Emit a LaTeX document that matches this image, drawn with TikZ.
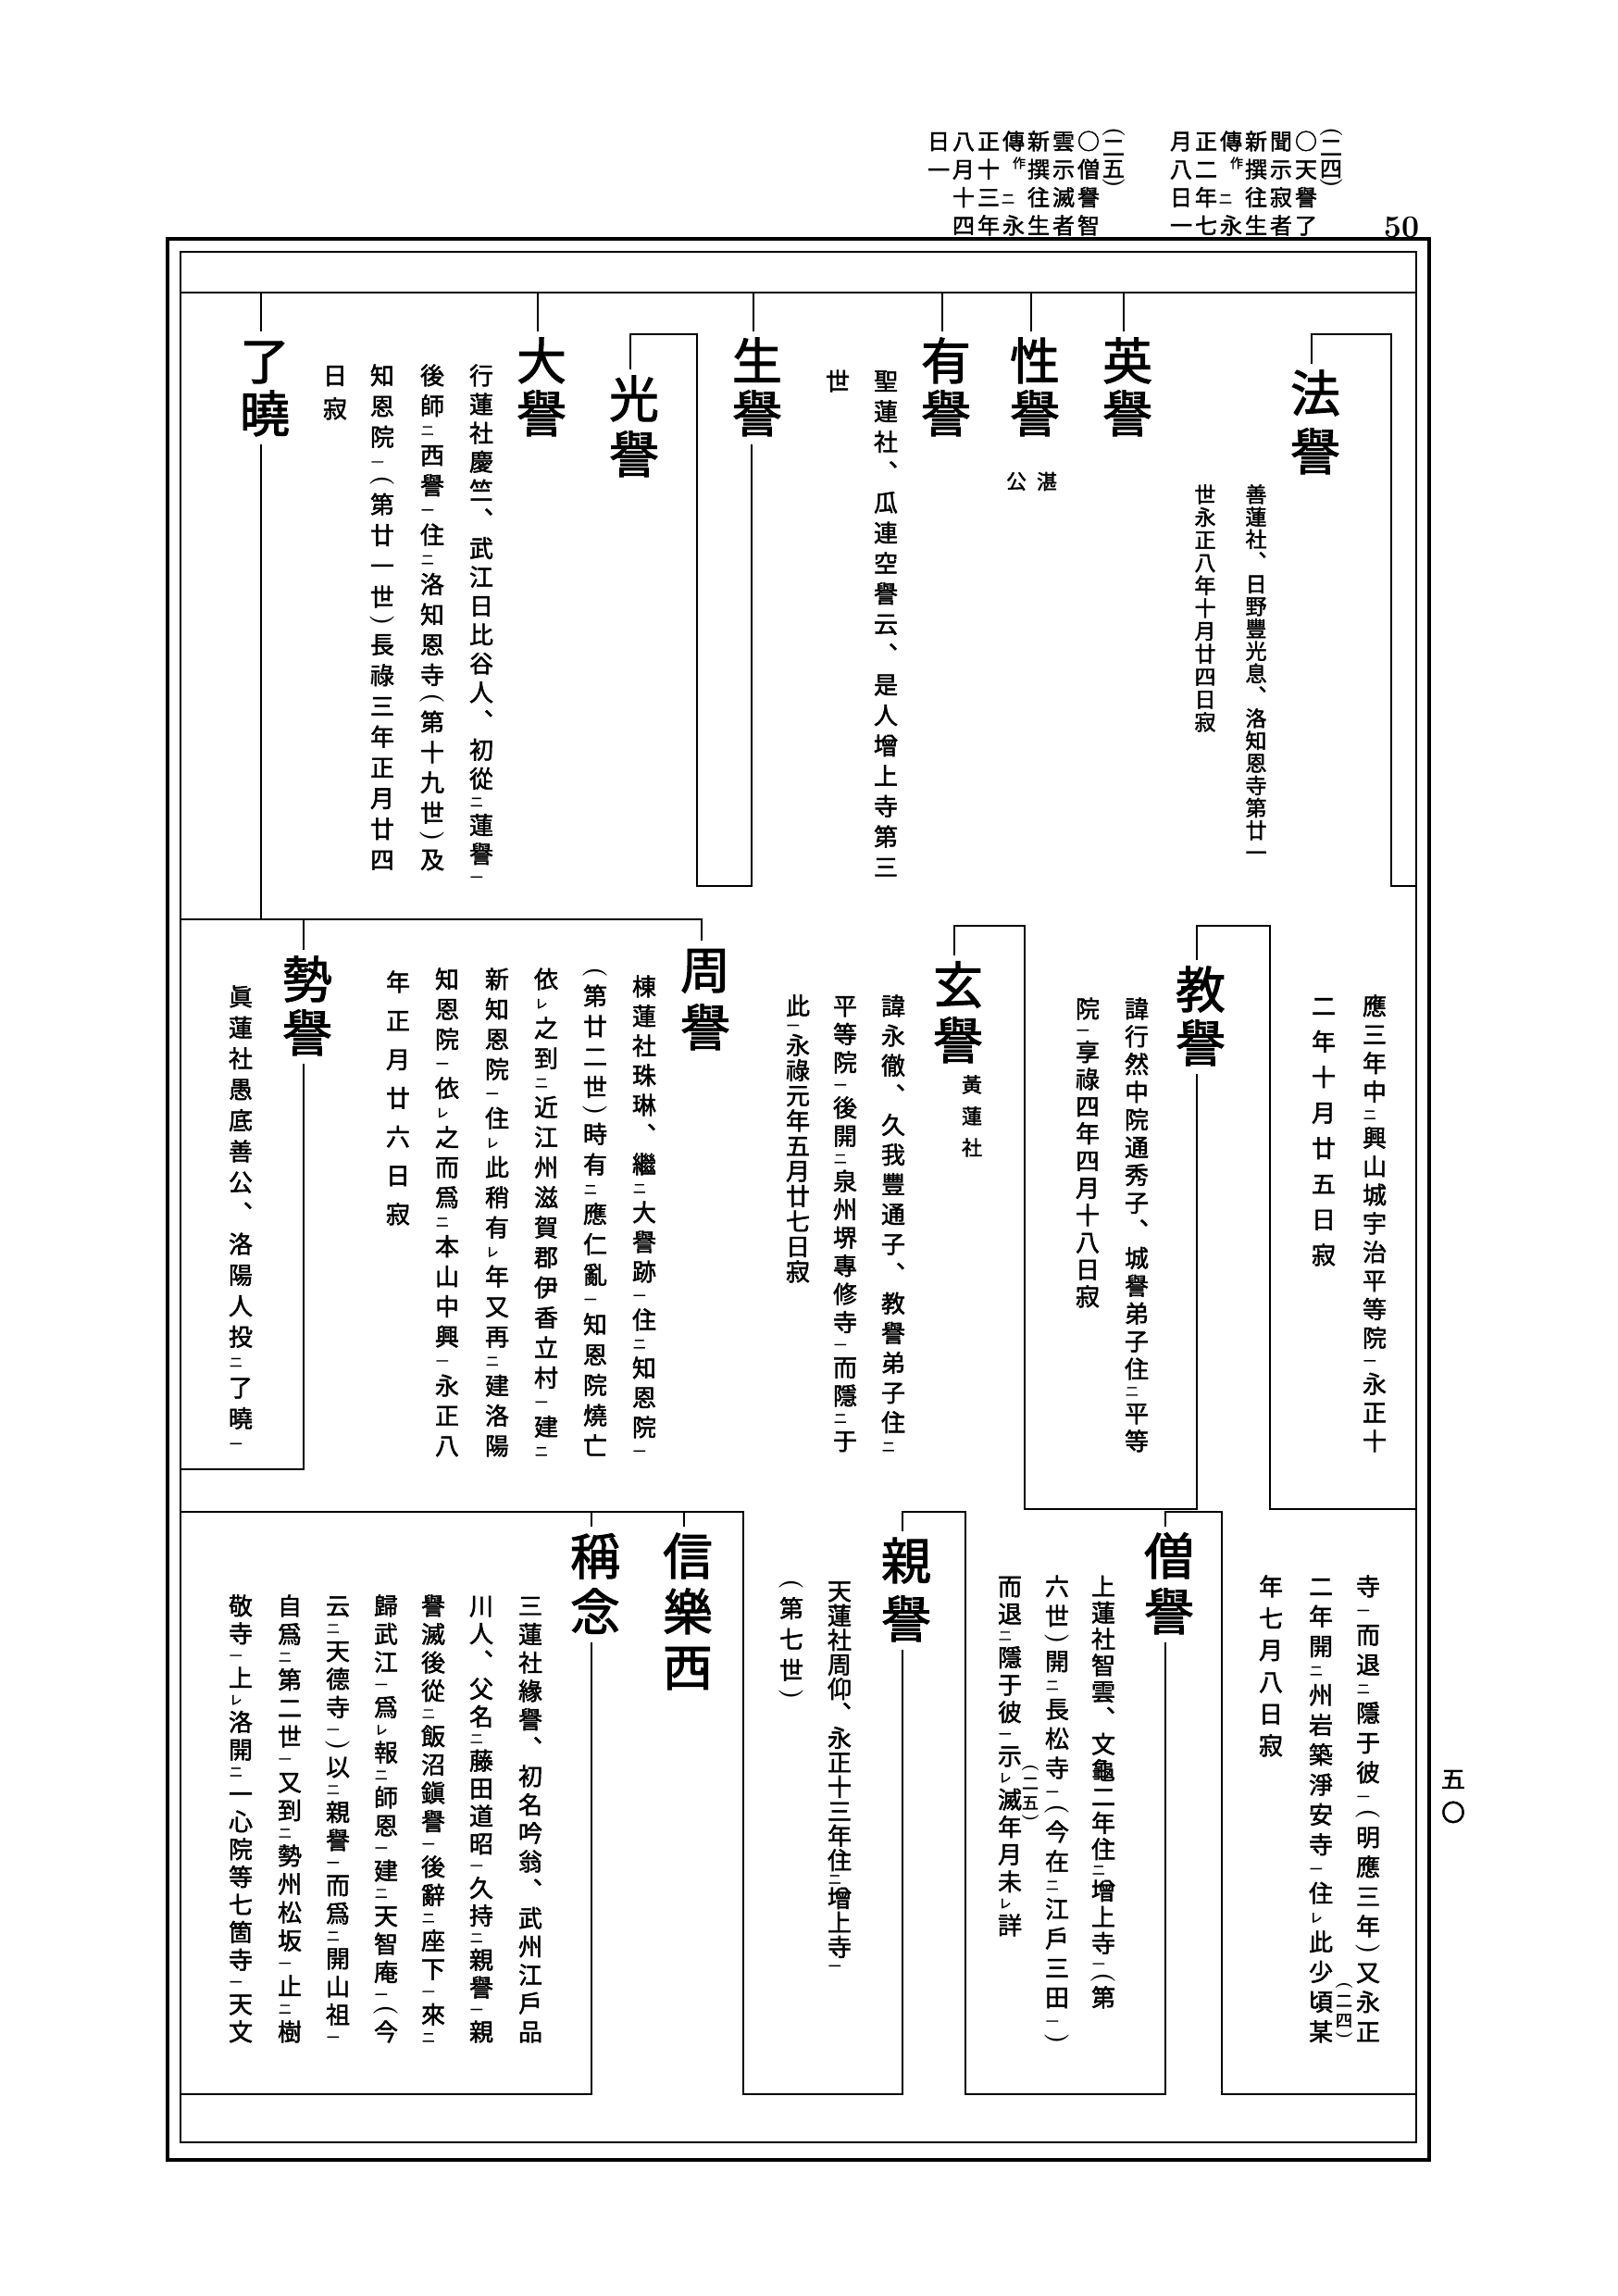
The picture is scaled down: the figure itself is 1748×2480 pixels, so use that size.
\documentclass[tikz,border=0pt]{standalone}
\usepackage{fontspec}
\newfontfamily\cjk{Noto Sans CJK JP}[FakeBold=1.8]
\makeatletter
\newdimen\vcpx \vcpx=0.5pt
\def\vc@end{\vc@end}
\def\vc@glue{\vskip 0pt plus 1fil minus 1fil\relax}
\def\vc@put#1{\vc@sep#1\let\vc@sep\vc@glue}
\newcommand\vtext[2]{\vbox to #1\vcpx{\offinterlineskip\let\vc@sep\relax\vc@loop#2\vc@end\kern0pt}}
\def\vc@loop#1{%
  \ifx#1\vc@end\let\vc@next\relax
  \else\ifx#1_\let\vc@next\vc@kaeri
  \else\ifx#1(\vc@put{\vc@paren(}\let\vc@next\vc@loop
  \else\ifx#1)\vc@put{\vc@paren)}\let\vc@next\vc@loop
  \else\ifx#1、\vc@put{\vc@comma}\let\vc@next\vc@loop
  \else\vc@put{\vc@char#1}\let\vc@next\vc@loop
  \fi\fi\fi\fi\fi\vc@next}
\def\vc@kaeri#1{\vc@put{\vc@small{#1}}\vc@loop}
\def\vc@char#1{\hbox to 1em{\hss\vrule height.88em depth.12em width0pt\smash{#1}\hss}}
\def\vc@small#1{\hbox to 1em{\kern.04em\vrule height.47em depth.07em width0pt\smash{\scalebox{.52}{#1}}\hss}}
\def\vc@comma{\vc@char{︑}}
\def\vc@paren#1{\hbox to 1em{\hss\rotatebox{-90}{\rmfamily\bfseries #1}\hss}}
\makeatother
\tikzset{
  vbody/.style={anchor=north,inner sep=0pt,font=\cjk\fontsize{13}{13}\selectfont},
  vbodys/.style={anchor=north,inner sep=0pt,font=\cjk\fontsize{11.5}{11.5}\selectfont},
  vname/.style={anchor=north,inner sep=0pt,font=\cjk\fontsize{27}{27}\selectfont},
  vhead/.style={anchor=north,inner sep=0pt,font=\cjk\fontsize{12}{12}\selectfont},
  vhsmall/.style={anchor=center,inner sep=0pt,font=\cjk\fontsize{7}{7}\selectfont},
  vnote/.style={anchor=north,inner sep=0pt,font=\cjk\fontsize{9}{9}\selectfont},
  vside/.style={anchor=center,inner sep=0pt,font=\cjk\fontsize{11}{11}\selectfont},
  chart/.style={line width=1.4pt,line join=miter},
}
\newcommand\tickto[2]{\draw[chart] ([xshift=-2pt,yshift=2pt]#1.north) -- ([xshift=-2pt]#1.north |- #2);}
\begin{document}
\begin{tikzpicture}[x=0.5pt,y=-0.5pt]
\useasboundingbox (0,0) rectangle (1748,2480);
\fill[white] (0,0) rectangle (1748,2480);

% ---------- header ----------
\node[vhead] (hln) at (1203,137) {\vtext{66}{(二五)}};
\node[vhead] (hl1) at (1176,140) {\vtext{115}{○僧譽智}};
\node[vhead] (hl2) at (1149,140) {\vtext{115}{雲示滅者}};
\node[vhead] (hl3) at (1122,140) {\vtext{115}{新撰往生}};
\node[vhead] (hl4a) at (1095,140) {\vtext{24}{傳}};
\node[vhsmall] (hl4b) at (1101,176) {作};
\node[vhsmall] (hl4c) at (1089,215) {二};
\node[vhead] (hl4d) at (1095,231) {\vtext{24}{永}};
\node[vhead] (hl5) at (1068,140) {\vtext{115}{正十三年}};
\node[vhead] (hl6) at (1041,140) {\vtext{115}{八月十四}};
\node[vhead] (hl7) at (1014,140) {\vtext{55}{日一}};
\node[vhead] (hrn) at (1438,137) {\vtext{66}{(二四)}};
\node[vhead] (hr1) at (1411,140) {\vtext{115}{○天譽了}};
\node[vhead] (hr2) at (1384,140) {\vtext{115}{聞示寂者}};
\node[vhead] (hr3) at (1357,140) {\vtext{115}{新撰往生}};
\node[vhead] (hr4a) at (1330,140) {\vtext{24}{傳}};
\node[vhsmall] (hr4b) at (1336,176) {作};
\node[vhsmall] (hr4c) at (1324,215) {二};
\node[vhead] (hr4d) at (1330,231) {\vtext{24}{永}};
\node[vhead] (hr5) at (1303,140) {\vtext{115}{正二年七}};
\node[vhead] (hr6) at (1276,140) {\vtext{115}{月八日一}};
\node[inner sep=0pt,font=\fontsize{17}{17}\selectfont\bfseries] (pg) at (1514,246) {50};
\node[vbody] (pgk) at (1570,1908) {\vtext{62}{五〇}};

% ---------- frame ----------
\draw[line width=1.8pt] (181,258) rectangle (1544,2333);
\draw[line width=1.1pt] (195,272) rectangle (1530,2314);

% ---------- row 1 ----------
\coordinate (L1) at (195,316);
\draw[chart] (L1) -- (1530,316);
\node[vname] (nhoyo) at (1421,397) {\vtext{117}{法譽}};
\node[vname] (neiyo) at (1218,362) {\vtext{111}{英譽}};
\node[vname] (nshoyo) at (1118,362) {\vtext{111}{性譽}};
\node[vname] (nuyo) at (1022,362) {\vtext{111}{有譽}};
\node[vname] (nseiyo) at (818,362) {\vtext{111}{生譽}};
\node[vname] (nkoyo) at (685,403) {\vtext{114}{光譽}};
\node[vname] (ndaiyo) at (585,362) {\vtext{111}{大譽}};
\node[vname] (nryo) at (286,362) {\vtext{111}{了曉}};
\node[vside] (tan) at (1131,520) {湛};
\node[vside] (kou) at (1098,520) {公};

\node[vbodys] (th1) at (1357,522) {\vtext{410}{善蓮社、日野豐光息、洛知恩寺第廿一}};
\node[vbodys] (th2) at (1302,522) {\vtext{269}{世永正八年十月廿四日寂}};
\node[vbody] (tu1) at (957,398) {\vtext{551}{聖蓮社、瓜連空譽云、是人增上寺第三}};
\node[vbody] (tu2) at (905,398) {\vtext{26}{世}};
\node[vbody] (td1) at (520,392) {\vtext{562}{行蓮社慶竺、武江日比谷人、初從_二蓮譽_一}};
\node[vbody] (td2) at (467,392) {\vtext{549}{後師_二西譽_一住_二洛知恩寺(第十九世)及}};
\node[vbody] (td3) at (413,392) {\vtext{549}{知恩院_一(第廿一世)長祿三年正月廿四}};
\node[vbody] (td4) at (362,392) {\vtext{62}{日寂}};

\tickto{neiyo}{L1}
\tickto{nshoyo}{L1}
\tickto{nuyo}{L1}
\tickto{nseiyo}{L1}
\tickto{ndaiyo}{L1}
\tickto{nryo}{L1}
\coordinate (hoTop) at (1503,361);
\coordinate (hoBot) at (1503,957);
\coordinate (fR1) at (1530,957);
\draw[chart] ([xshift=-2pt,yshift=2pt]nhoyo.north) -- ([xshift=-2pt]nhoyo.north |- hoTop) -- (hoTop) -- (hoBot) -- (fR1);
\coordinate (koTop) at (753,361);
\coordinate (koBot) at (753,957);
\draw[chart] ([xshift=-2pt,yshift=2pt]nkoyo.north) -- ([xshift=-2pt]nkoyo.north |- koTop) -- (koTop) -- (koBot) -- ([xshift=-3pt]nseiyo.south |- koBot) -- ([xshift=-3pt,yshift=-3pt]nseiyo.south);

% ---------- row 2 ----------
\coordinate (L2) at (195,993);
\draw[chart] ([xshift=-2pt,yshift=-3pt]nryo.south) -- ([xshift=-2pt]nryo.south |- L2);
\node[vname] (nkyoyo) at (1297,1041) {\vtext{112}{教譽}};
\node[vname] (ngenyo) at (1035,1036) {\vtext{114}{玄譽}};
\node[vname] (nshuyo) at (762,1020) {\vtext{116}{周譽}};
\node[vname] (nseyo) at (332,1030) {\vtext{112}{勢譽}};
\node[vside,anchor=north] (tkoren) at (1050,1160) {\vtext{90}{黃蓮社}};

\node[vbody] (to1) at (1485,1073) {\vtext{496}{應三年中_二興山城宇治平等院_一永正十}};
\node[vbody] (to2) at (1430,1073) {\vtext{295}{二年十月廿五日寂}};
\node[vbody] (tk1) at (1228,1076) {\vtext{493}{諱行然中院通秀子、城譽弟子住_二平等}};
\node[vbody] (tk2) at (1175,1076) {\vtext{337}{院_一享祿四年四月十八日寂}};
\node[vbody] (tg1) at (965,1073) {\vtext{496}{諱永徹、久我豐通子、教譽弟子住_二}};
\node[vbody] (tg2) at (913,1073) {\vtext{496}{平等院_一後開_二泉州堺專修寺_一而隱_二于}};
\node[vbody] (tg3) at (862,1073) {\vtext{313}{此_一永祿元年五月廿七日寂}};
\node[vbody] (ts1) at (696,1052) {\vtext{522}{棟蓮社珠琳、繼_二大譽跡_一住_二知恩院_一}};
\node[vbody] (ts2) at (643,1044) {\vtext{530}{(第廿二世)時有_二應仁亂_一知恩院燒亡}};
\node[vbody] (ts3) at (590,1044) {\vtext{530}{依_レ之到_二近江州滋賀郡伊香立村_一建_二}};
\node[vbody] (ts4) at (537,1044) {\vtext{530}{新知恩院_一住_レ此稍有_レ年又再_二建洛陽}};
\node[vbody] (ts5) at (483,1044) {\vtext{530}{知恩院_一依_レ之而爲_二本山中興_一永正八}};
\node[vbody] (ts6) at (430,1047) {\vtext{277}{年正月廿六日寂}};
\node[vbody] (tse1) at (260,1063) {\vtext{503}{眞蓮社愚底善公、洛陽人投_二了曉_一}};

\draw[chart] (L2) -- ([xshift=-2pt]nshuyo.north |- L2) -- ([xshift=-2pt,yshift=2pt]nshuyo.north);
\tickto{nseyo}{L2}
\coordinate (seBot) at (195,1587);
\draw[chart] ([xshift=-2pt,yshift=-3pt]nseyo.south) -- ([xshift=-2pt]nseyo.south |- seBot) -- (seBot);
\coordinate (gTop) at (1107,1000);
\coordinate (gBot) at (1107,1630);
\draw[chart] ([xshift=-2pt,yshift=2pt]ngenyo.north) -- ([xshift=-2pt]ngenyo.north |- gTop) -- (gTop) -- (gBot) -- ([xshift=-2pt]nkyoyo.south |- gBot) -- ([xshift=-2pt,yshift=-3pt]nkyoyo.south);
\coordinate (oTop) at (1372,1000);
\coordinate (oBot) at (1372,1630);
\coordinate (fR2) at (1530,1630);
\draw[chart] ([xshift=-2pt,yshift=2pt]nkyoyo.north) -- ([xshift=-2pt]nkyoyo.north |- oTop) -- (oTop) -- (oBot) -- (fR2);

% ---------- row 3 ----------
\node[vname] (nsoyo) at (1263,1653) {\vtext{114}{僧譽}};
\node[vname] (nshinyo) at (979,1658) {\vtext{117}{親譽}};
\node[vname] (nshingyo) at (743,1653) {\vtext{174}{信樂西}};
\node[vname] (nshonen) at (643,1653) {\vtext{114}{稱念}};

\node[vbody] (tr1) at (1478,1700) {\vtext{507}{寺_一而退_二隱于彼_一(明應三年)又永正}};
\node[vbody] (tr2) at (1427,1700) {\vtext{507}{二年開_二州岩築淨安寺_一住_レ此少頃某}};
\node[vnote] (tr2n) at (1452,2140) {\vtext{62}{(二四)}};
\node[vbody] (tr3) at (1373,1700) {\vtext{198}{年七月八日寂}};
\node[vbody] (tso1) at (1192,1700) {\vtext{470}{上蓮社智雲、文龜二年住_二增上寺_一(第}};
\node[vbody] (tso2) at (1142,1700) {\vtext{507}{六世)開_二長松寺_一(今在_二江戶三田_一)}};
\node[vnote] (tso2n) at (1113,1905) {\vtext{62}{(二五)}};
\node[vbody] (tso3) at (1091,1700) {\vtext{392}{而退_二隱于彼_一示_レ滅年月未_レ詳}};
\node[vbody] (tsh1) at (907,1705) {\vtext{425}{天蓮社周仰、永正十三年住_二增上寺_一}};
\node[vbody] (tsh2) at (855,1705) {\vtext{130}{(第七世)}};
\node[vbody] (tn1) at (573,1721) {\vtext{486}{三蓮社緣譽、初名吟翁、武州江戶品}};
\node[vbody] (tn2) at (520,1721) {\vtext{486}{川人、父名_二藤田道昭_一久持_二親譽_一親}};
\node[vbody] (tn3) at (468,1721) {\vtext{486}{譽滅後從_二飯沼鎭譽_一後辭_二座下_一來_二}};
\node[vbody] (tn4) at (417,1721) {\vtext{486}{歸武江_一爲_レ報_二師恩_一建_二天智庵_一(今}};
\node[vbody] (tn5) at (365,1721) {\vtext{486}{云_二天德寺_一)以_二親譽_一而爲_二開山祖_一}};
\node[vbody] (tn6) at (313,1721) {\vtext{486}{自爲_二第二世_一又到_二勢州松坂_一止_二樹}};
\node[vbody] (tn7) at (260,1721) {\vtext{486}{敬寺_一上_レ洛開_二一心院等七箇寺_一天文}};

\coordinate (L3) at (195,1633);
\coordinate (L3x) at (803,1633);
\coordinate (L3b) at (803,2262);
\draw[chart] (L3) -- (L3x) -- (L3b) -- ([xshift=-2pt]nshinyo.south |- L3b) -- ([xshift=-2pt,yshift=-3pt]nshinyo.south);
\tickto{nshingyo}{L3}
\tickto{nshonen}{L3}
\coordinate (shBot) at (195,2262);
\draw[chart] ([xshift=-2pt,yshift=-3pt]nshonen.south) -- ([xshift=-2pt]nshonen.south |- shBot) -- (shBot);
\coordinate (siTop) at (1043,1633);
\coordinate (siBot) at (1043,2262);
\draw[chart] ([xshift=-2pt,yshift=2pt]nshinyo.north) -- ([xshift=-2pt]nshinyo.north |- siTop) -- (siTop) -- (siBot) -- ([xshift=-2pt]nsoyo.south |- siBot) -- ([xshift=-2pt,yshift=-3pt]nsoyo.south);
\coordinate (soTop) at (1320,1633);
\coordinate (soBot) at (1320,2262);
\coordinate (fR3) at (1530,2262);
\draw[chart] ([xshift=-2pt,yshift=2pt]nsoyo.north) -- ([xshift=-2pt]nsoyo.north |- soTop) -- (soTop) -- (soBot) -- (fR3);
\end{tikzpicture}
\end{document}
